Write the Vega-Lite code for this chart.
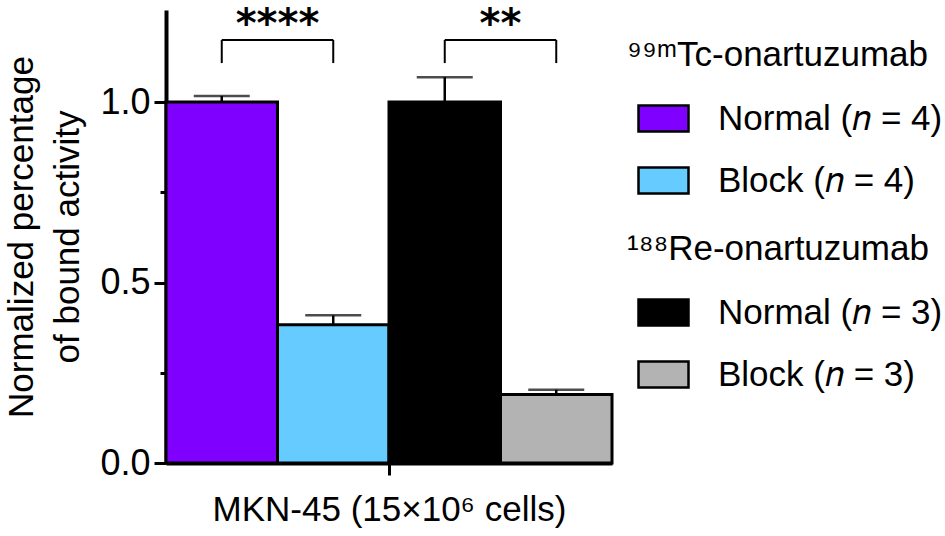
{
  "$schema": "https://vega.github.io/schema/vega-lite/v6.json",
  "width": 446,
  "height": 453,
  "autosize": {"type": "none"},
  "padding": {"left": 166, "top": 10, "right": 333, "bottom": 73},
  "datasets": {
    "bars": [
      {"tracer": "Tc", "group": "Normal (𝑛 = 4)", "mean": 1.0, "upper": 1.017},
      {"tracer": "Tc", "group": "Block (𝑛 = 4)", "mean": 0.383, "upper": 0.409},
      {"tracer": "Re", "group": "Normal (𝑛 = 3)", "mean": 1.0, "upper": 1.069},
      {"tracer": "Re", "group": "Block (𝑛 = 3)", "mean": 0.19, "upper": 0.203}
    ],
    "brackets": [
      {"from": "Normal (𝑛 = 4)", "to": "Block (𝑛 = 4)", "low": 1.108, "high": 1.172, "stars": "****"},
      {"from": "Normal (𝑛 = 3)", "to": "Block (𝑛 = 3)", "low": 1.108, "high": 1.172, "stars": "**"}
    ]
  },
  "data": {"name": "bars"},
  "config": {
    "font": "Liberation Sans",
    "view": {"stroke": null},
    "axis": {
      "grid": false,
      "domainColor": "black",
      "domainWidth": 4,
      "tickColor": "black",
      "tickWidth": 3,
      "labelColor": "black",
      "labelFont": "Liberation Sans",
      "labelFontSize": 36,
      "titleColor": "black",
      "titleFont": "Liberation Sans",
      "titleFontSize": 35,
      "titleFontWeight": "normal"
    },
    "legend": {
      "orient": "none",
      "symbolType": "M-1,-0.52H1V0.52H-1Z",
      "symbolSize": 2500,
      "symbolStrokeColor": "black",
      "symbolStrokeWidth": 2.5,
      "symbolOffset": 10,
      "labelOffset": 28,
      "labelFont": "Liberation Sans",
      "labelFontSize": 35,
      "labelColor": "black",
      "labelLimit": 400,
      "titleFont": "Liberation Sans",
      "titleFontSize": 35,
      "titleFontWeight": "normal",
      "titleColor": "black",
      "titleLimit": 400,
      "titlePadding": 19,
      "rowPadding": 17
    }
  },
  "encoding": {
    "x": {
      "field": "group",
      "type": "nominal",
      "scale": {
        "domain": ["Normal (𝑛 = 4)", "Block (𝑛 = 4)", "Normal (𝑛 = 3)", "Block (𝑛 = 3)"],
        "paddingInner": 0,
        "paddingOuter": 0
      },
      "axis": {
        "values": ["Block (𝑛 = 4)"],
        "bandPosition": 1,
        "labels": false,
        "tickSize": 12,
        "title": "MKN-45 (15×10⁶ cells)",
        "titlePadding": 16
      }
    }
  },
  "layer": [
    {
      "transform": [{"filter": "datum.tracer === 'Tc'"}],
      "mark": {"type": "bar", "stroke": "black", "strokeWidth": 3},
      "encoding": {
        "y": {
          "field": "mean",
          "type": "quantitative",
          "scale": {"domain": [0, 1.255], "nice": false},
          "axis": {
            "values": [0, 0.25, 0.5, 0.75, 1],
            "labelExpr": "datum.value === 0.25 || datum.value === 0.75 ? '' : format(datum.value, '.1f')",
            "tickSize": {"condition": {"test": "datum.value === 0.25 || datum.value === 0.75", "value": 6}, "value": 12},
            "labelPadding": 4,
            "title": ["Normalized percentage", "of bound activity"],
            "titleLineHeight": 46,
            "titlePadding": 14
          }
        },
        "fill": {
          "field": "group",
          "type": "nominal",
          "scale": {"domain": ["Normal (𝑛 = 4)", "Block (𝑛 = 4)"], "range": ["#8000FF", "#66CCFF"]},
          "legend": {"title": "⁹⁹ᵐTc-onartuzumab", "legendX": 461, "legendY": 28}
        }
      }
    },
    {
      "transform": [{"filter": "datum.tracer === 'Re'"}],
      "mark": {"type": "bar", "stroke": "black", "strokeWidth": 3},
      "encoding": {
        "y": {"field": "mean", "type": "quantitative"},
        "color": {
          "field": "group",
          "type": "nominal",
          "scale": {"domain": ["Normal (𝑛 = 3)", "Block (𝑛 = 3)"], "range": ["#000000", "#B3B3B3"]},
          "legend": {"title": "¹⁸⁸Re-onartuzumab", "legendX": 461, "legendY": 222}
        }
      }
    },
    {
      "mark": {"type": "rule", "color": "black", "strokeWidth": 2.5},
      "encoding": {
        "y": {"field": "mean", "type": "quantitative"},
        "y2": {"field": "upper"}
      }
    },
    {
      "mark": {"type": "tick", "color": "black", "size": 56, "thickness": 2.5},
      "encoding": {
        "y": {"field": "upper", "type": "quantitative"}
      }
    },
    {
      "data": {"name": "brackets"},
      "mark": {"type": "rule", "color": "black", "strokeWidth": 2},
      "encoding": {
        "x": {"field": "from", "type": "nominal"},
        "x2": {"field": "to"},
        "y": {"field": "high", "type": "quantitative"}
      }
    },
    {
      "data": {"name": "brackets"},
      "mark": {"type": "rule", "color": "black", "strokeWidth": 2},
      "encoding": {
        "x": {"field": "from", "type": "nominal"},
        "y": {"field": "low", "type": "quantitative"},
        "y2": {"field": "high"}
      }
    },
    {
      "data": {"name": "brackets"},
      "mark": {"type": "rule", "color": "black", "strokeWidth": 2},
      "encoding": {
        "x": {"field": "to", "type": "nominal"},
        "y": {"field": "low", "type": "quantitative"},
        "y2": {"field": "high"}
      }
    },
    {
      "data": {"name": "brackets"},
      "mark": {"type": "text", "font": "DejaVu Sans", "fontWeight": "bold", "fontSize": 40, "baseline": "alphabetic", "dy": -3, "color": "black"},
      "encoding": {
        "x": {"field": "from", "type": "nominal", "bandPosition": 1},
        "y": {"field": "high", "type": "quantitative"},
        "text": {"field": "stars"}
      }
    }
  ]
}
